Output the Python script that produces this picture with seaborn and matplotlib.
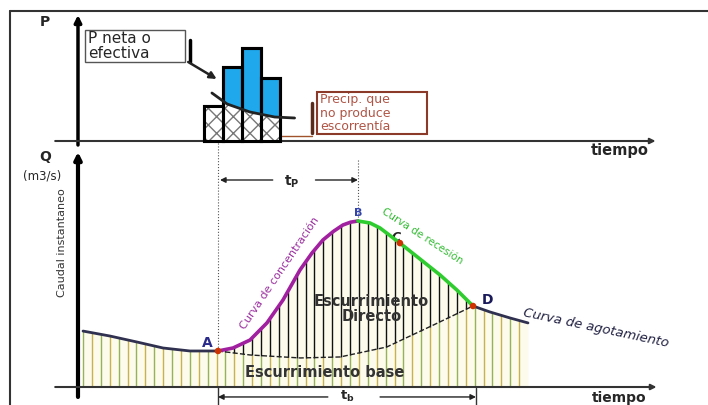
import numpy as np
import matplotlib
matplotlib.use("Agg")
import matplotlib.pyplot as plt
import seaborn as sns
from matplotlib.lines import Line2D
from matplotlib.patches import Rectangle

# --- hietograma (tiempo en unidades arbitrarias, P en mm) ---
bar_left = [13.25, 15.25, 17.25, 19.25]
bar_p = [17.5, 37.0, 46.5, 31.5]
bar_w = 2.0
loss_t = [14.1, 15.7, 18.1, 20.7, 22.8]
loss_p = [24.0, 18.5, 14.5, 12.0, 11.5]

# --- hidrograma (Q en m3/s) ---
pre_t = [0.53, 3.37, 6.21, 8.95, 11.79, 14.74]
pre_q = [33.7, 30.7, 27.1, 23.5, 21.7, 21.7]
rise_t = [14.74, 16.32, 18.11, 19.89, 21.58, 23.37, 24.63, 25.79, 26.9, 27.89, 28.7, 29.47]
rise_q = [21.7, 23.5, 28.3, 38.6, 52.4, 70.5, 80.7, 88.6, 93.8, 97.6, 99.3, 100.0]
rec_t = [29.47, 30.74, 31.79, 33.89, 36.0, 38.11, 39.89, 41.58]
rec_q = [100.0, 98.8, 95.8, 86.7, 77.1, 67.5, 58.4, 48.8]
ago_t = [41.58, 43.37, 45.47, 47.37]
ago_q = [48.8, 45.2, 41.6, 38.6]
base_t = [14.74, 18.1, 23.4, 27.6, 32.5, 37.4, 41.58]
base_q = [21.7, 19.3, 17.5, 18.1, 24.1, 37.3, 48.8]
pt_label = ["A", "B", "C", "D"]
pt_t = [14.74, 29.47, 33.89, 41.58]
pt_q = [21.7, 100.0, 86.7, 48.8]

sns.set_theme(style="white")
fig = plt.figure(figsize=(7.08, 4.05), dpi=100)
ax = fig.add_axes([0, 0, 1, 1])
ax2 = fig.add_axes([0, 0, 1, 1], facecolor="none")
for a in (ax, ax2):
    a.set_xlim(-8.21, 66.32)
    a.axis("off")
ax.set_ylim(-10.84, 233.13)
ax2.set_ylim(-132, 70.5)

# marco
fig.add_artist(Line2D([10 / 708, 1], [1 - 11 / 405] * 2, color="#333333", lw=1.5))
fig.add_artist(Line2D([10 / 708] * 2, [0, 1 - 11 / 405], color="#333333", lw=1.5))

# ---------------- hietograma ----------------
arrow = dict(arrowstyle="-|>", color="black", lw=2.5, shrinkA=0, shrinkB=0, mutation_scale=10)
ax2.annotate("", xy=(0, 63), xytext=(0, -2), arrowprops=arrow)
ax2.annotate("", xy=(60.8, 0), xytext=(-2.4, 0),
             arrowprops=dict(arrowstyle="-|>", color="#333333", lw=1.5, shrinkA=0, shrinkB=0, mutation_scale=8))
ax2.text(-3.5, 59.5, "P", fontsize=10, fontweight="bold", ha="center", va="center")
ax2.text(57.0, -5, "tiempo", fontsize=10.5, fontweight="bold", ha="center", va="center")

ax2.bar(bar_left, bar_p, width=bar_w, align="edge", color="#1fa8ec", edgecolor="black", lw=2.2, zorder=2)
for l, h in zip(bar_left, bar_p):
    xs = np.linspace(l, l + bar_w, 30)
    top = np.minimum(np.interp(xs, loss_t, loss_p), h)
    ax2.fill_between(xs, 0, top, facecolor="white", edgecolor="#777777", hatch="xx", lw=0, zorder=3)
    ax2.bar([l], [h], width=bar_w, align="edge", color="none", edgecolor="black", lw=2.2, zorder=4)
sns.lineplot(x=loss_t, y=loss_p, ax=ax2, color="#222222", lw=2, sort=False, estimator=None, zorder=5)

ax2.add_patch(Rectangle((0.74, 39.5), 10.52, 16, fc="white", ec="#555555", lw=1, zorder=5))
ax2.text(1.1, 47.5, "P neta o\nefectiva", fontsize=11, ha="left", va="center", linespacing=1.0, zorder=6)
ax2.plot([11.79, 11.79], [39.5, 50.5], color="black", lw=2.5)
ax2.annotate("", xy=(14.6, 31), xytext=(11.6, 39.5),
             arrowprops=dict(arrowstyle="-|>", color="#222222", lw=1.8, shrinkA=0, shrinkB=0, mutation_scale=10))

ax2.add_patch(Rectangle((25.16, 3.5), 11.58, 21, fc="white", ec="#8b3a2a", lw=1.5, zorder=5))
ax2.text(25.5, 14, "Precip. que\nno produce\nescorrentía", fontsize=9, color="#b05545",
         ha="left", va="center", linespacing=1.0, zorder=6)
ax2.plot([24.6, 24.6], [4, 19], color="#5a2a1a", lw=2.5)
ax2.plot([21.3, 24.6], [2.5, 2.5], color="#a0522d", lw=1)

# ---------------- hidrograma ----------------
ax.annotate("", xy=(0, 141.6), xytext=(0, -6), arrowprops=dict(arrowstyle="-|>", color="black", lw=3,
                                                                 shrinkA=0, shrinkB=0, mutation_scale=10))
ax.annotate("", xy=(60.9, 0), xytext=(-2.4, 0),
            arrowprops=dict(arrowstyle="-|>", color="#333333", lw=1.5, shrinkA=0, shrinkB=0, mutation_scale=8))
ax.text(-3.5, 138.5, "Q", fontsize=10, fontweight="bold", ha="center", va="center")
ax.text(-3.8, 127, "(m3/s)", fontsize=8.5, ha="center", va="center")
ax.text(-1.7, 87, "Caudal instantaneo", fontsize=8, rotation=90, ha="center", va="center", color="#333333")
ax.text(57.0, -6.4, "tiempo", fontsize=10, fontweight="bold", ha="center", va="center")

full_t = pre_t + rise_t[1:] + rec_t[1:] + ago_t[1:]
full_q = pre_q + rise_q[1:] + rec_q[1:] + ago_q[1:]
low_t = pre_t + base_t[1:] + ago_t[1:]
low_q = pre_q + base_q[1:] + ago_q[1:]
ax.fill_between(full_t, 0, full_q, color="#fcfbec", lw=0, zorder=1)

ts = np.arange(pre_t[0], ago_t[-1] + 0.01, 0.937)
low = np.interp(ts, low_t, low_q)
top = np.interp(ts, full_t, full_q)
cols = ["#c7b24e" if i % 2 else "#98b25a" for i in range(len(ts))]
ax.vlines(ts, 0, low, colors=cols, lw=1, zorder=2)
m = (ts > base_t[0]) & (ts < base_t[-1])
ax.vlines(ts[m], low[m], top[m], colors="#111111", lw=1, zorder=2)
sns.lineplot(x=base_t, y=base_q, ax=ax, color="#222222", lw=1, ls="--", sort=False, estimator=None, zorder=3)

sns.lineplot(x=pre_t, y=pre_q, ax=ax, color="#303050", lw=2, sort=False, estimator=None, zorder=4)
sns.lineplot(x=ago_t, y=ago_q, ax=ax, color="#303050", lw=2, sort=False, estimator=None, zorder=4)
sns.lineplot(x=rise_t, y=rise_q, ax=ax, color="#a020a0", lw=2.6, sort=False, estimator=None, zorder=4)
sns.lineplot(x=rec_t, y=rec_q, ax=ax, color="#2ecc2e", lw=2.6, sort=False, estimator=None, zorder=4)

red = [i for i, p in enumerate(pt_label) if p != "B"]
sns.scatterplot(x=[pt_t[i] for i in red], y=[pt_q[i] for i in red], ax=ax, color="#cc3300",
                s=22, edgecolor="none", zorder=5)
ax.text(pt_t[0] - 1.1, pt_q[0] + 4.8, "A", fontsize=10, fontweight="bold", color="#2a2a8a", ha="center", va="center")
ax.text(pt_t[1], pt_q[1] + 4.8, "B", fontsize=8, fontweight="bold", color="#3344aa", ha="center", va="center")
ax.text(pt_t[2] - 0.4, pt_q[2] + 3.5, "C", fontsize=9, fontweight="bold", style="italic", color="#222222",
        ha="center", va="center")
ax.text(pt_t[3] + 1.5, pt_q[3] + 3.8, "D", fontsize=10, fontweight="bold", color="#1a1a5a", ha="center", va="center")

ax.plot([pt_t[0]] * 2, [148.8, pt_q[0]], color="#555555", lw=0.8, ls=":")
ax.plot([pt_t[1]] * 2, [136.7, pt_q[1]], color="#555555", lw=0.8, ls=":")

ax.text(21.2, 68.7, "Curva de concentración", fontsize=8, color="#9b30a0", rotation=56,
        rotation_mode="anchor", ha="center", va="center")
ax.text(36.2, 90.9, "Curva de recesión", fontsize=7.5, color="#33bb33", rotation=-33,
        rotation_mode="anchor", ha="center", va="center")
ax.text(54.5, 35.5, "Curva de agotamiento", fontsize=9.5, style="italic", color="#222244", rotation=-12,
        rotation_mode="anchor", ha="center", va="center")
ax.text(30.9, 47, "Escurrimiento\nDirecto", fontsize=10.5, fontweight="bold", color="#333333",
        ha="center", va="center", linespacing=0.95, zorder=6)
ax.text(26.0, 9, "Escurrimiento base", fontsize=10.5, fontweight="bold", color="#333333",
        ha="center", va="center", zorder=6)

# tp y tb
thin = dict(arrowstyle="-|>", color="#222222", lw=1, shrinkA=0, shrinkB=0, mutation_scale=8)
ax.annotate("", xy=(14.95, 124.7), xytext=(20.5, 124.7), arrowprops=thin)
ax.annotate("", xy=(29.47, 124.7), xytext=(25.0, 124.7), arrowprops=thin)
ax.text(22.5, 123.5, r"$\mathbf{t_P}$", fontsize=10, ha="center", va="center")
ax.annotate("", xy=(14.74, -6), xytext=(26.3, -6), arrowprops=thin)
ax.annotate("", xy=(41.9, -6), xytext=(31.8, -6), arrowprops=thin)
ax.text(28.3, -5.6, r"$\mathbf{t_b}$", fontsize=9.5, ha="center", va="center")
ax.plot([14.74, 14.74], [0, -10.8], color="#333333", lw=1)
ax.plot([41.9, 41.9], [-0.6, -10.8], color="#333333", lw=1)

fig.savefig("out.png", dpi=100)
